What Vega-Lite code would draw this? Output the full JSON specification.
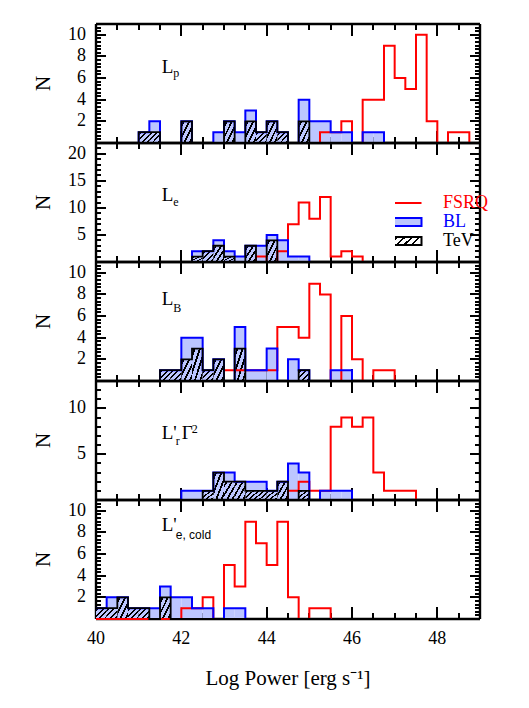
{
"$schema": "https://vega.github.io/schema/vega-lite/v6.json",
"padding": {"left": 33, "top": 15, "right": 5, "bottom": 5},
"background": "white",
"config": {
 "view": {"stroke": null},
 "axis": {"domainColor": "#000", "domainWidth": 2.4, "ticks": true, "grid": false, "tickColor": "#000", "tickWidth": 2, "tickOpacity": 1, "labelFont": "Liberation Serif", "labelFontSize": 18, "labelColor": "#000", "titleFont": "Liberation Serif", "titleFontSize": 21, "titleFontWeight": "normal", "titleColor": "#000", "zindex": 1, "translate": 0, "labelFlush": false, "labelOverlap": false, "labelAngle": 0, "format": "d"}
},
"datasets": {"h": [
{"p":"p","x0":40.75,"x1":41,"fsrq":0,"bl":0,"tev":0},
{"p":"p","x0":41,"x1":41.25,"fsrq":0,"bl":1,"tev":1},
{"p":"p","x0":41.25,"x1":41.5,"fsrq":0,"bl":2,"tev":1},
{"p":"p","x0":41.5,"x1":41.75,"fsrq":0,"bl":0,"tev":0},
{"p":"p","x0":41.75,"x1":42,"fsrq":0,"bl":0,"tev":0},
{"p":"p","x0":42,"x1":42.25,"fsrq":0,"bl":2,"tev":2},
{"p":"p","x0":42.25,"x1":42.5,"fsrq":0,"bl":0,"tev":0},
{"p":"p","x0":42.5,"x1":42.75,"fsrq":0,"bl":0,"tev":0},
{"p":"p","x0":42.75,"x1":43,"fsrq":0,"bl":1,"tev":0},
{"p":"p","x0":43,"x1":43.25,"fsrq":0,"bl":2,"tev":2},
{"p":"p","x0":43.25,"x1":43.5,"fsrq":0,"bl":1,"tev":0},
{"p":"p","x0":43.5,"x1":43.75,"fsrq":0,"bl":3,"tev":2},
{"p":"p","x0":43.75,"x1":44,"fsrq":0,"bl":1,"tev":1},
{"p":"p","x0":44,"x1":44.25,"fsrq":0,"bl":2,"tev":2},
{"p":"p","x0":44.25,"x1":44.5,"fsrq":0,"bl":1,"tev":1},
{"p":"p","x0":44.5,"x1":44.75,"fsrq":0,"bl":0,"tev":0},
{"p":"p","x0":44.75,"x1":45,"fsrq":0,"bl":4,"tev":2},
{"p":"p","x0":45,"x1":45.25,"fsrq":0,"bl":2,"tev":0},
{"p":"p","x0":45.25,"x1":45.5,"fsrq":1,"bl":2,"tev":0},
{"p":"p","x0":45.5,"x1":45.75,"fsrq":1,"bl":1,"tev":0},
{"p":"p","x0":45.75,"x1":46,"fsrq":2,"bl":1,"tev":0},
{"p":"p","x0":46,"x1":46.25,"fsrq":0,"bl":0,"tev":0},
{"p":"p","x0":46.25,"x1":46.5,"fsrq":4,"bl":1,"tev":0},
{"p":"p","x0":46.5,"x1":46.75,"fsrq":4,"bl":1,"tev":0},
{"p":"p","x0":46.75,"x1":47,"fsrq":9,"bl":0,"tev":0},
{"p":"p","x0":47,"x1":47.25,"fsrq":6,"bl":0,"tev":0},
{"p":"p","x0":47.25,"x1":47.5,"fsrq":5,"bl":0,"tev":0},
{"p":"p","x0":47.5,"x1":47.75,"fsrq":10,"bl":0,"tev":0},
{"p":"p","x0":47.75,"x1":48,"fsrq":2,"bl":0,"tev":0},
{"p":"p","x0":48,"x1":48.25,"fsrq":0,"bl":0,"tev":0},
{"p":"p","x0":48.25,"x1":48.5,"fsrq":1,"bl":0,"tev":0},
{"p":"p","x0":48.5,"x1":48.75,"fsrq":1,"bl":0,"tev":0},
{"p":"p","x0":48.75,"x1":49,"fsrq":0,"bl":0,"tev":0},
{"p":"e","x0":42,"x1":42.25,"fsrq":0,"bl":0,"tev":0},
{"p":"e","x0":42.25,"x1":42.5,"fsrq":0,"bl":2,"tev":1},
{"p":"e","x0":42.5,"x1":42.75,"fsrq":0,"bl":2,"tev":2},
{"p":"e","x0":42.75,"x1":43,"fsrq":0,"bl":4,"tev":3},
{"p":"e","x0":43,"x1":43.25,"fsrq":0,"bl":2,"tev":1},
{"p":"e","x0":43.25,"x1":43.5,"fsrq":0,"bl":1,"tev":0},
{"p":"e","x0":43.5,"x1":43.75,"fsrq":0,"bl":3,"tev":3},
{"p":"e","x0":43.75,"x1":44,"fsrq":1,"bl":3,"tev":0},
{"p":"e","x0":44,"x1":44.25,"fsrq":0,"bl":5,"tev":4},
{"p":"e","x0":44.25,"x1":44.5,"fsrq":2,"bl":4,"tev":0},
{"p":"e","x0":44.5,"x1":44.75,"fsrq":7,"bl":1,"tev":0},
{"p":"e","x0":44.75,"x1":45,"fsrq":11,"bl":1,"tev":0},
{"p":"e","x0":45,"x1":45.25,"fsrq":8,"bl":0,"tev":0},
{"p":"e","x0":45.25,"x1":45.5,"fsrq":12,"bl":0,"tev":0},
{"p":"e","x0":45.5,"x1":45.75,"fsrq":1,"bl":0,"tev":0},
{"p":"e","x0":45.75,"x1":46,"fsrq":2,"bl":0,"tev":0},
{"p":"e","x0":46,"x1":46.25,"fsrq":1,"bl":0,"tev":0},
{"p":"e","x0":46.25,"x1":46.5,"fsrq":0,"bl":0,"tev":0},
{"p":"B","x0":41.25,"x1":41.5,"fsrq":0,"bl":0,"tev":0},
{"p":"B","x0":41.5,"x1":41.75,"fsrq":0,"bl":1,"tev":1},
{"p":"B","x0":41.75,"x1":42,"fsrq":0,"bl":1,"tev":1},
{"p":"B","x0":42,"x1":42.25,"fsrq":0,"bl":4,"tev":2},
{"p":"B","x0":42.25,"x1":42.5,"fsrq":0,"bl":4,"tev":3},
{"p":"B","x0":42.5,"x1":42.75,"fsrq":0,"bl":1,"tev":1},
{"p":"B","x0":42.75,"x1":43,"fsrq":0,"bl":2,"tev":2},
{"p":"B","x0":43,"x1":43.25,"fsrq":1,"bl":0,"tev":0},
{"p":"B","x0":43.25,"x1":43.5,"fsrq":1,"bl":5,"tev":3},
{"p":"B","x0":43.5,"x1":43.75,"fsrq":1,"bl":1,"tev":0},
{"p":"B","x0":43.75,"x1":44,"fsrq":1,"bl":1,"tev":0},
{"p":"B","x0":44,"x1":44.25,"fsrq":1,"bl":3,"tev":0},
{"p":"B","x0":44.25,"x1":44.5,"fsrq":5,"bl":0,"tev":0},
{"p":"B","x0":44.5,"x1":44.75,"fsrq":5,"bl":2,"tev":0},
{"p":"B","x0":44.75,"x1":45,"fsrq":4,"bl":1,"tev":1},
{"p":"B","x0":45,"x1":45.25,"fsrq":9,"bl":0,"tev":0},
{"p":"B","x0":45.25,"x1":45.5,"fsrq":8,"bl":0,"tev":0},
{"p":"B","x0":45.5,"x1":45.75,"fsrq":0,"bl":1,"tev":0},
{"p":"B","x0":45.75,"x1":46,"fsrq":6,"bl":1,"tev":0},
{"p":"B","x0":46,"x1":46.25,"fsrq":2,"bl":0,"tev":0},
{"p":"B","x0":46.25,"x1":46.5,"fsrq":0,"bl":0,"tev":0},
{"p":"B","x0":46.5,"x1":46.75,"fsrq":1,"bl":0,"tev":0},
{"p":"B","x0":46.75,"x1":47,"fsrq":1,"bl":0,"tev":0},
{"p":"B","x0":47,"x1":47.25,"fsrq":0,"bl":0,"tev":0},
{"p":"r","x0":41.75,"x1":42,"fsrq":0,"bl":0,"tev":0},
{"p":"r","x0":42,"x1":42.25,"fsrq":0,"bl":1,"tev":0},
{"p":"r","x0":42.25,"x1":42.5,"fsrq":0,"bl":1,"tev":0},
{"p":"r","x0":42.5,"x1":42.75,"fsrq":0,"bl":1,"tev":1},
{"p":"r","x0":42.75,"x1":43,"fsrq":0,"bl":3,"tev":3},
{"p":"r","x0":43,"x1":43.25,"fsrq":0,"bl":3,"tev":2},
{"p":"r","x0":43.25,"x1":43.5,"fsrq":0,"bl":2,"tev":2},
{"p":"r","x0":43.5,"x1":43.75,"fsrq":0,"bl":2,"tev":1},
{"p":"r","x0":43.75,"x1":44,"fsrq":0,"bl":2,"tev":1},
{"p":"r","x0":44,"x1":44.25,"fsrq":0,"bl":1,"tev":1},
{"p":"r","x0":44.25,"x1":44.5,"fsrq":0,"bl":2,"tev":2},
{"p":"r","x0":44.5,"x1":44.75,"fsrq":1,"bl":4,"tev":0},
{"p":"r","x0":44.75,"x1":45,"fsrq":2,"bl":3,"tev":1},
{"p":"r","x0":45,"x1":45.25,"fsrq":1,"bl":0,"tev":0},
{"p":"r","x0":45.25,"x1":45.5,"fsrq":1,"bl":1,"tev":0},
{"p":"r","x0":45.5,"x1":45.75,"fsrq":8,"bl":1,"tev":0},
{"p":"r","x0":45.75,"x1":46,"fsrq":9,"bl":1,"tev":0},
{"p":"r","x0":46,"x1":46.25,"fsrq":8,"bl":0,"tev":0},
{"p":"r","x0":46.25,"x1":46.5,"fsrq":9,"bl":0,"tev":0},
{"p":"r","x0":46.5,"x1":46.75,"fsrq":3,"bl":0,"tev":0},
{"p":"r","x0":46.75,"x1":47,"fsrq":1,"bl":0,"tev":0},
{"p":"r","x0":47,"x1":47.25,"fsrq":1,"bl":0,"tev":0},
{"p":"r","x0":47.25,"x1":47.5,"fsrq":1,"bl":0,"tev":0},
{"p":"r","x0":47.5,"x1":47.75,"fsrq":0,"bl":0,"tev":0},
{"p":"c","x0":40,"x1":40.25,"fsrq":0,"bl":1,"tev":1},
{"p":"c","x0":40.25,"x1":40.5,"fsrq":0,"bl":2,"tev":1},
{"p":"c","x0":40.5,"x1":40.75,"fsrq":0,"bl":2,"tev":2},
{"p":"c","x0":40.75,"x1":41,"fsrq":0,"bl":1,"tev":1},
{"p":"c","x0":41,"x1":41.25,"fsrq":0,"bl":1,"tev":1},
{"p":"c","x0":41.25,"x1":41.5,"fsrq":0,"bl":1,"tev":0},
{"p":"c","x0":41.5,"x1":41.75,"fsrq":0,"bl":3,"tev":2},
{"p":"c","x0":41.75,"x1":42,"fsrq":0,"bl":2,"tev":0},
{"p":"c","x0":42,"x1":42.25,"fsrq":1,"bl":2,"tev":0},
{"p":"c","x0":42.25,"x1":42.5,"fsrq":1,"bl":1,"tev":0},
{"p":"c","x0":42.5,"x1":42.75,"fsrq":2,"bl":1,"tev":0},
{"p":"c","x0":42.75,"x1":43,"fsrq":0,"bl":0,"tev":0},
{"p":"c","x0":43,"x1":43.25,"fsrq":5,"bl":1,"tev":0},
{"p":"c","x0":43.25,"x1":43.5,"fsrq":3,"bl":1,"tev":0},
{"p":"c","x0":43.5,"x1":43.75,"fsrq":9,"bl":0,"tev":0},
{"p":"c","x0":43.75,"x1":44,"fsrq":7,"bl":0,"tev":0},
{"p":"c","x0":44,"x1":44.25,"fsrq":5,"bl":0,"tev":0},
{"p":"c","x0":44.25,"x1":44.5,"fsrq":9,"bl":0,"tev":0},
{"p":"c","x0":44.5,"x1":44.75,"fsrq":2,"bl":0,"tev":0},
{"p":"c","x0":44.75,"x1":45,"fsrq":0,"bl":0,"tev":0},
{"p":"c","x0":45,"x1":45.25,"fsrq":1,"bl":0,"tev":0},
{"p":"c","x0":45.25,"x1":45.5,"fsrq":1,"bl":0,"tev":0},
{"p":"c","x0":45.5,"x1":45.75,"fsrq":0,"bl":0,"tev":0}
]},
"vconcat": [
{
 "width": 384, "height": 119,
 "data": {"name": "h"},
 "transform": [{"filter": "datum.p === 'p'"}],
 "resolve": {"axis": {"x": "independent", "y": "independent"}},
 "layer": [
  {"transform": [{"filter": "datum.bl > 0"}], "mark": {"type": "rect", "fill": "#bcc6ff"},
   "encoding": {
    "x": {"field": "x0", "type": "quantitative", "scale": {"domain": [40, 49], "nice": false, "zero": false}, "axis": {"orient": "bottom", "values": [40,40.5,41,41.5,42,42.5,43,43.5,44,44.5,45,45.5,46,46.5,47,47.5,48,48.5,49], "labels": false, "title": null, "tickSize": {"condition": {"test": "datum.value % 2 === 0", "value": -12}, "value": -6}}},
    "x2": {"field": "x1"},
    "y": {"field": "bl", "type": "quantitative", "scale": {"domain": [0, 11], "nice": false}, "axis": {"orient": "left", "values": [0,0.3333,0.6667,1,1.3333,1.6667,2,2.3333,2.6667,3,3.3333,3.6667,4,4.3333,4.6667,5,5.3333,5.6667,6,6.3333,6.6667,7,7.3333,7.6667,8,8.3333,8.6667,9,9.3333,9.6667,10,10.3333,10.6667,11], "labelExpr": "datum.value % 2 === 0 && datum.value > 0 ? datum.label : ''", "title": "N", "tickSize": {"condition": {"test": "datum.value % 2 === 0", "value": -10}, "value": -5}, "labelPadding": 20, "titlePadding": 14}},
    "y2": {"datum": 0}
   }},
  {"transform": [{"filter": "datum.tev > 0"}], "mark": {"type": "rect", "fill": {"gradient": "linear", "x1": 0, "y1": 0, "x2": 1, "y2": 1, "stops": [{"offset": 0, "color": "rgba(0,0,0,0)"}, {"offset": 0.08, "color": "rgba(0,0,0,0)"}, {"offset": 0.08, "color": "#000"}, {"offset": 0.17, "color": "#000"}, {"offset": 0.17, "color": "rgba(0,0,0,0)"}, {"offset": 0.33, "color": "rgba(0,0,0,0)"}, {"offset": 0.33, "color": "#000"}, {"offset": 0.42, "color": "#000"}, {"offset": 0.42, "color": "rgba(0,0,0,0)"}, {"offset": 0.58, "color": "rgba(0,0,0,0)"}, {"offset": 0.58, "color": "#000"}, {"offset": 0.67, "color": "#000"}, {"offset": 0.67, "color": "rgba(0,0,0,0)"}, {"offset": 0.83, "color": "rgba(0,0,0,0)"}, {"offset": 0.83, "color": "#000"}, {"offset": 0.92, "color": "#000"}, {"offset": 0.92, "color": "rgba(0,0,0,0)"}, {"offset": 1, "color": "rgba(0,0,0,0)"}]}},
   "encoding": {"x": {"field": "x0", "type": "quantitative", "axis": null}, "x2": {"field": "x1"}, "y": {"field": "tev", "type": "quantitative", "axis": null}, "y2": {"datum": 0}}},
  {"mark": {"type": "line", "interpolate": "step-after", "stroke": "#ff0000", "strokeWidth": 2}, "encoding": {"x": {"field": "x0", "type": "quantitative", "axis": null}, "y": {"field": "fsrq", "type": "quantitative", "axis": null}}},
  {"mark": {"type": "line", "interpolate": "step-after", "stroke": "#0000ff", "strokeWidth": 2}, "encoding": {"x": {"field": "x0", "type": "quantitative", "axis": null}, "y": {"field": "bl", "type": "quantitative", "axis": null}}},
  {"mark": {"type": "line", "interpolate": "step-after", "stroke": "#000000", "strokeWidth": 1.8}, "encoding": {"x": {"field": "x0", "type": "quantitative", "axis": null}, "y": {"field": "tev", "type": "quantitative", "axis": null}}},
  {"mark": {"type": "rect", "opacity": 0},
   "encoding": {
    "x": {"field": "x0", "type": "quantitative", "axis": {"orient": "top", "values": [40,40.5,41,41.5,42,42.5,43,43.5,44,44.5,45,45.5,46,46.5,47,47.5,48,48.5,49], "labels": false, "title": null, "tickSize": {"condition": {"test": "datum.value % 2 === 0", "value": -12}, "value": -6}}},
    "x2": {"field": "x1"},
    "y": {"field": "bl", "type": "quantitative", "axis": {"orient": "right", "values": [0,0.3333,0.6667,1,1.3333,1.6667,2,2.3333,2.6667,3,3.3333,3.6667,4,4.3333,4.6667,5,5.3333,5.6667,6,6.3333,6.6667,7,7.3333,7.6667,8,8.3333,8.6667,9,9.3333,9.6667,10,10.3333,10.6667,11], "labels": false, "title": null, "tickSize": {"condition": {"test": "datum.value % 2 === 0", "value": -10}, "value": -5}}},
    "y2": {"datum": 0}
   }},
  {"data": {"values": [{}]}, "mark": {"type": "text", "text": "L", "font": "Liberation Serif", "fontSize": 19, "align": "left", "baseline": "alphabetic", "fill": "#000"}, "encoding": {"x": {"datum": 41.54, "type": "quantitative", "axis": null}, "y": {"datum": 6.47, "type": "quantitative", "axis": null}}},
  {"data": {"values": [{}]}, "mark": {"type": "text", "text": "p", "font": "Liberation Serif", "fontSize": 12, "align": "left", "baseline": "alphabetic", "fill": "#000", "dx": 11.5, "dy": 4}, "encoding": {"x": {"datum": 41.54, "type": "quantitative", "axis": null}, "y": {"datum": 6.47, "type": "quantitative", "axis": null}}}
 ]
},
{
 "width": 384, "height": 119,
 "data": {"name": "h"},
 "transform": [{"filter": "datum.p === 'e'"}],
 "resolve": {"axis": {"x": "independent", "y": "independent"}},
 "layer": [
  {"transform": [{"filter": "datum.bl > 0"}], "mark": {"type": "rect", "fill": "#bcc6ff"},
   "encoding": {
    "x": {"field": "x0", "type": "quantitative", "scale": {"domain": [40, 49], "nice": false, "zero": false}, "axis": {"orient": "bottom", "values": [40,40.5,41,41.5,42,42.5,43,43.5,44,44.5,45,45.5,46,46.5,47,47.5,48,48.5,49], "labels": false, "title": null, "tickSize": {"condition": {"test": "datum.value % 2 === 0", "value": -12}, "value": -6}}},
    "x2": {"field": "x1"},
    "y": {"field": "bl", "type": "quantitative", "scale": {"domain": [0, 22], "nice": false}, "axis": {"orient": "left", "values": [0,1,2,3,4,5,6,7,8,9,10,11,12,13,14,15,16,17,18,19,20,21,22], "labelExpr": "datum.value % 5 === 0 && datum.value > 0 ? datum.label : ''", "title": "N", "tickSize": {"condition": {"test": "datum.value % 5 === 0", "value": -10}, "value": -5}, "labelPadding": 20, "titlePadding": 14}},
    "y2": {"datum": 0}
   }},
  {"transform": [{"filter": "datum.tev > 0"}], "mark": {"type": "rect", "fill": {"gradient": "linear", "x1": 0, "y1": 0, "x2": 1, "y2": 1, "stops": [{"offset": 0, "color": "rgba(0,0,0,0)"}, {"offset": 0.08, "color": "rgba(0,0,0,0)"}, {"offset": 0.08, "color": "#000"}, {"offset": 0.17, "color": "#000"}, {"offset": 0.17, "color": "rgba(0,0,0,0)"}, {"offset": 0.33, "color": "rgba(0,0,0,0)"}, {"offset": 0.33, "color": "#000"}, {"offset": 0.42, "color": "#000"}, {"offset": 0.42, "color": "rgba(0,0,0,0)"}, {"offset": 0.58, "color": "rgba(0,0,0,0)"}, {"offset": 0.58, "color": "#000"}, {"offset": 0.67, "color": "#000"}, {"offset": 0.67, "color": "rgba(0,0,0,0)"}, {"offset": 0.83, "color": "rgba(0,0,0,0)"}, {"offset": 0.83, "color": "#000"}, {"offset": 0.92, "color": "#000"}, {"offset": 0.92, "color": "rgba(0,0,0,0)"}, {"offset": 1, "color": "rgba(0,0,0,0)"}]}},
   "encoding": {"x": {"field": "x0", "type": "quantitative", "axis": null}, "x2": {"field": "x1"}, "y": {"field": "tev", "type": "quantitative", "axis": null}, "y2": {"datum": 0}}},
  {"mark": {"type": "line", "interpolate": "step-after", "strokeWidth": 2}, "encoding": {"x": {"field": "x0", "type": "quantitative", "axis": null}, "y": {"field": "fsrq", "type": "quantitative", "axis": null},
    "color": {"datum": "FSRQ", "type": "nominal", "scale": {"domain": ["FSRQ", "BL", "TeV"], "range": ["#ff0000", "#0000ff", "#000000"]},
     "legend": {"orient": "none", "legendX": 299, "legendY": 51, "title": null, "symbolSize": 4, "symbolStrokeWidth": 2, "labelFont": "Liberation Serif", "labelFontSize": 18, "labelOffset": 30, "rowPadding": 1, "clipHeight": 18, "padding": 0,
      "symbolType": {"expr": "datum.value === 'FSRQ' ? 'M-17.5,0H17.5' : 'M-17.5,-4H17.5V4H-17.5Z'"},
      "symbolFillColor": {"expr": "datum.value === 'BL' ? '#bcc6ff' : datum.value === 'TeV' ? {gradient: 'linear', x1: 0, y1: 0, x2: 1, y2: 0.25, stops: [{offset: 0, color: 'rgba(0,0,0,0)'}, {offset: 0.07, color: 'rgba(0,0,0,0)'}, {offset: 0.07, color: '#000'}, {offset: 0.13, color: '#000'}, {offset: 0.13, color: 'rgba(0,0,0,0)'}, {offset: 0.27, color: 'rgba(0,0,0,0)'}, {offset: 0.27, color: '#000'}, {offset: 0.33, color: '#000'}, {offset: 0.33, color: 'rgba(0,0,0,0)'}, {offset: 0.47, color: 'rgba(0,0,0,0)'}, {offset: 0.47, color: '#000'}, {offset: 0.53, color: '#000'}, {offset: 0.53, color: 'rgba(0,0,0,0)'}, {offset: 0.67, color: 'rgba(0,0,0,0)'}, {offset: 0.67, color: '#000'}, {offset: 0.73, color: '#000'}, {offset: 0.73, color: 'rgba(0,0,0,0)'}, {offset: 0.87, color: 'rgba(0,0,0,0)'}, {offset: 0.87, color: '#000'}, {offset: 0.93, color: '#000'}, {offset: 0.93, color: 'rgba(0,0,0,0)'}, {offset: 1, color: 'rgba(0,0,0,0)'}]} : 'transparent'"},
      "labelColor": {"expr": "datum.value === 'FSRQ' ? '#ff0000' : datum.value === 'BL' ? '#0000ff' : '#000000'"}
      }}}},
  {"mark": {"type": "line", "interpolate": "step-after", "stroke": "#0000ff", "strokeWidth": 2}, "encoding": {"x": {"field": "x0", "type": "quantitative", "axis": null}, "y": {"field": "bl", "type": "quantitative", "axis": null}}},
  {"mark": {"type": "line", "interpolate": "step-after", "stroke": "#000000", "strokeWidth": 1.8}, "encoding": {"x": {"field": "x0", "type": "quantitative", "axis": null}, "y": {"field": "tev", "type": "quantitative", "axis": null}}},
  {"mark": {"type": "rect", "opacity": 0},
   "encoding": {
    "x": {"field": "x0", "type": "quantitative", "axis": {"orient": "top", "values": [40,40.5,41,41.5,42,42.5,43,43.5,44,44.5,45,45.5,46,46.5,47,47.5,48,48.5,49], "labels": false, "title": null, "tickSize": {"condition": {"test": "datum.value % 2 === 0", "value": -12}, "value": -6}}},
    "x2": {"field": "x1"},
    "y": {"field": "bl", "type": "quantitative", "axis": {"orient": "right", "values": [0,1,2,3,4,5,6,7,8,9,10,11,12,13,14,15,16,17,18,19,20,21,22], "labels": false, "title": null, "tickSize": {"condition": {"test": "datum.value % 5 === 0", "value": -10}, "value": -5}}},
    "y2": {"datum": 0}
   }},
  {"data": {"values": [{}]}, "mark": {"type": "text", "text": "L", "font": "Liberation Serif", "fontSize": 19, "align": "left", "baseline": "alphabetic", "fill": "#000"}, "encoding": {"x": {"datum": 41.54, "type": "quantitative", "axis": null}, "y": {"datum": 11.28, "type": "quantitative", "axis": null}}},
  {"data": {"values": [{}]}, "mark": {"type": "text", "text": "e", "font": "Liberation Serif", "fontSize": 12, "align": "left", "baseline": "alphabetic", "fill": "#000", "dx": 11.5, "dy": 5}, "encoding": {"x": {"datum": 41.54, "type": "quantitative", "axis": null}, "y": {"datum": 11.28, "type": "quantitative", "axis": null}}}
 ]
},
{
 "width": 384, "height": 119,
 "data": {"name": "h"},
 "transform": [{"filter": "datum.p === 'B'"}],
 "resolve": {"axis": {"x": "independent", "y": "independent"}},
 "layer": [
  {"transform": [{"filter": "datum.bl > 0"}], "mark": {"type": "rect", "fill": "#bcc6ff"},
   "encoding": {
    "x": {"field": "x0", "type": "quantitative", "scale": {"domain": [40, 49], "nice": false, "zero": false}, "axis": {"orient": "bottom", "values": [40,40.5,41,41.5,42,42.5,43,43.5,44,44.5,45,45.5,46,46.5,47,47.5,48,48.5,49], "labels": false, "title": null, "tickSize": {"condition": {"test": "datum.value % 2 === 0", "value": -12}, "value": -6}}},
    "x2": {"field": "x1"},
    "y": {"field": "bl", "type": "quantitative", "scale": {"domain": [0, 11], "nice": false}, "axis": {"orient": "left", "values": [0,0.3333,0.6667,1,1.3333,1.6667,2,2.3333,2.6667,3,3.3333,3.6667,4,4.3333,4.6667,5,5.3333,5.6667,6,6.3333,6.6667,7,7.3333,7.6667,8,8.3333,8.6667,9,9.3333,9.6667,10,10.3333,10.6667,11], "labelExpr": "datum.value % 2 === 0 && datum.value > 0 ? datum.label : ''", "title": "N", "tickSize": {"condition": {"test": "datum.value % 2 === 0", "value": -10}, "value": -5}, "labelPadding": 20, "titlePadding": 14}},
    "y2": {"datum": 0}
   }},
  {"transform": [{"filter": "datum.tev > 0"}], "mark": {"type": "rect", "fill": {"gradient": "linear", "x1": 0, "y1": 0, "x2": 1, "y2": 1, "stops": [{"offset": 0, "color": "rgba(0,0,0,0)"}, {"offset": 0.08, "color": "rgba(0,0,0,0)"}, {"offset": 0.08, "color": "#000"}, {"offset": 0.17, "color": "#000"}, {"offset": 0.17, "color": "rgba(0,0,0,0)"}, {"offset": 0.33, "color": "rgba(0,0,0,0)"}, {"offset": 0.33, "color": "#000"}, {"offset": 0.42, "color": "#000"}, {"offset": 0.42, "color": "rgba(0,0,0,0)"}, {"offset": 0.58, "color": "rgba(0,0,0,0)"}, {"offset": 0.58, "color": "#000"}, {"offset": 0.67, "color": "#000"}, {"offset": 0.67, "color": "rgba(0,0,0,0)"}, {"offset": 0.83, "color": "rgba(0,0,0,0)"}, {"offset": 0.83, "color": "#000"}, {"offset": 0.92, "color": "#000"}, {"offset": 0.92, "color": "rgba(0,0,0,0)"}, {"offset": 1, "color": "rgba(0,0,0,0)"}]}},
   "encoding": {"x": {"field": "x0", "type": "quantitative", "axis": null}, "x2": {"field": "x1"}, "y": {"field": "tev", "type": "quantitative", "axis": null}, "y2": {"datum": 0}}},
  {"mark": {"type": "line", "interpolate": "step-after", "stroke": "#ff0000", "strokeWidth": 2}, "encoding": {"x": {"field": "x0", "type": "quantitative", "axis": null}, "y": {"field": "fsrq", "type": "quantitative", "axis": null}}},
  {"mark": {"type": "line", "interpolate": "step-after", "stroke": "#0000ff", "strokeWidth": 2}, "encoding": {"x": {"field": "x0", "type": "quantitative", "axis": null}, "y": {"field": "bl", "type": "quantitative", "axis": null}}},
  {"mark": {"type": "line", "interpolate": "step-after", "stroke": "#000000", "strokeWidth": 1.8}, "encoding": {"x": {"field": "x0", "type": "quantitative", "axis": null}, "y": {"field": "tev", "type": "quantitative", "axis": null}}},
  {"mark": {"type": "rect", "opacity": 0},
   "encoding": {
    "x": {"field": "x0", "type": "quantitative", "axis": {"orient": "top", "values": [40,40.5,41,41.5,42,42.5,43,43.5,44,44.5,45,45.5,46,46.5,47,47.5,48,48.5,49], "labels": false, "title": null, "tickSize": {"condition": {"test": "datum.value % 2 === 0", "value": -12}, "value": -6}}},
    "x2": {"field": "x1"},
    "y": {"field": "bl", "type": "quantitative", "axis": {"orient": "right", "values": [0,0.3333,0.6667,1,1.3333,1.6667,2,2.3333,2.6667,3,3.3333,3.6667,4,4.3333,4.6667,5,5.3333,5.6667,6,6.3333,6.6667,7,7.3333,7.6667,8,8.3333,8.6667,9,9.3333,9.6667,10,10.3333,10.6667,11], "labels": false, "title": null, "tickSize": {"condition": {"test": "datum.value % 2 === 0", "value": -10}, "value": -5}}},
    "y2": {"datum": 0}
   }},
  {"data": {"values": [{}]}, "mark": {"type": "text", "text": "L", "font": "Liberation Serif", "fontSize": 19, "align": "left", "baseline": "alphabetic", "fill": "#000"}, "encoding": {"x": {"datum": 41.54, "type": "quantitative", "axis": null}, "y": {"datum": 7.03, "type": "quantitative", "axis": null}}},
  {"data": {"values": [{}]}, "mark": {"type": "text", "text": "B", "font": "Liberation Serif", "fontSize": 12, "align": "left", "baseline": "alphabetic", "fill": "#000", "dx": 11.5, "dy": 7}, "encoding": {"x": {"datum": 41.54, "type": "quantitative", "axis": null}, "y": {"datum": 7.03, "type": "quantitative", "axis": null}}}
 ]
},
{
 "width": 384, "height": 119,
 "data": {"name": "h"},
 "transform": [{"filter": "datum.p === 'r'"}],
 "resolve": {"axis": {"x": "independent", "y": "independent"}},
 "layer": [
  {"transform": [{"filter": "datum.bl > 0"}], "mark": {"type": "rect", "fill": "#bcc6ff"},
   "encoding": {
    "x": {"field": "x0", "type": "quantitative", "scale": {"domain": [40, 49], "nice": false, "zero": false}, "axis": {"orient": "bottom", "values": [40,40.5,41,41.5,42,42.5,43,43.5,44,44.5,45,45.5,46,46.5,47,47.5,48,48.5,49], "labels": false, "title": null, "tickSize": {"condition": {"test": "datum.value % 2 === 0", "value": -12}, "value": -6}}},
    "x2": {"field": "x1"},
    "y": {"field": "bl", "type": "quantitative", "scale": {"domain": [0, 13], "nice": false}, "axis": {"orient": "left", "values": [0,1,2,3,4,5,6,7,8,9,10,11,12,13], "labelExpr": "datum.value % 5 === 0 && datum.value > 0 ? datum.label : ''", "title": "N", "tickSize": {"condition": {"test": "datum.value % 5 === 0", "value": -10}, "value": -5}, "labelPadding": 20, "titlePadding": 14}},
    "y2": {"datum": 0}
   }},
  {"transform": [{"filter": "datum.tev > 0"}], "mark": {"type": "rect", "fill": {"gradient": "linear", "x1": 0, "y1": 0, "x2": 1, "y2": 1, "stops": [{"offset": 0, "color": "rgba(0,0,0,0)"}, {"offset": 0.08, "color": "rgba(0,0,0,0)"}, {"offset": 0.08, "color": "#000"}, {"offset": 0.17, "color": "#000"}, {"offset": 0.17, "color": "rgba(0,0,0,0)"}, {"offset": 0.33, "color": "rgba(0,0,0,0)"}, {"offset": 0.33, "color": "#000"}, {"offset": 0.42, "color": "#000"}, {"offset": 0.42, "color": "rgba(0,0,0,0)"}, {"offset": 0.58, "color": "rgba(0,0,0,0)"}, {"offset": 0.58, "color": "#000"}, {"offset": 0.67, "color": "#000"}, {"offset": 0.67, "color": "rgba(0,0,0,0)"}, {"offset": 0.83, "color": "rgba(0,0,0,0)"}, {"offset": 0.83, "color": "#000"}, {"offset": 0.92, "color": "#000"}, {"offset": 0.92, "color": "rgba(0,0,0,0)"}, {"offset": 1, "color": "rgba(0,0,0,0)"}]}},
   "encoding": {"x": {"field": "x0", "type": "quantitative", "axis": null}, "x2": {"field": "x1"}, "y": {"field": "tev", "type": "quantitative", "axis": null}, "y2": {"datum": 0}}},
  {"mark": {"type": "line", "interpolate": "step-after", "stroke": "#ff0000", "strokeWidth": 2}, "encoding": {"x": {"field": "x0", "type": "quantitative", "axis": null}, "y": {"field": "fsrq", "type": "quantitative", "axis": null}}},
  {"mark": {"type": "line", "interpolate": "step-after", "stroke": "#0000ff", "strokeWidth": 2}, "encoding": {"x": {"field": "x0", "type": "quantitative", "axis": null}, "y": {"field": "bl", "type": "quantitative", "axis": null}}},
  {"mark": {"type": "line", "interpolate": "step-after", "stroke": "#000000", "strokeWidth": 1.8}, "encoding": {"x": {"field": "x0", "type": "quantitative", "axis": null}, "y": {"field": "tev", "type": "quantitative", "axis": null}}},
  {"mark": {"type": "rect", "opacity": 0},
   "encoding": {
    "x": {"field": "x0", "type": "quantitative", "axis": {"orient": "top", "values": [40,40.5,41,41.5,42,42.5,43,43.5,44,44.5,45,45.5,46,46.5,47,47.5,48,48.5,49], "labels": false, "title": null, "tickSize": {"condition": {"test": "datum.value % 2 === 0", "value": -12}, "value": -6}}},
    "x2": {"field": "x1"},
    "y": {"field": "bl", "type": "quantitative", "axis": {"orient": "right", "values": [0,1,2,3,4,5,6,7,8,9,10,11,12,13], "labels": false, "title": null, "tickSize": {"condition": {"test": "datum.value % 5 === 0", "value": -10}, "value": -5}}},
    "y2": {"datum": 0}
   }},
  {"data": {"values": [{}]}, "mark": {"type": "text", "text": "L'", "font": "Liberation Serif", "fontSize": 19, "align": "left", "baseline": "alphabetic", "fill": "#000"}, "encoding": {"x": {"datum": 41.54, "type": "quantitative", "axis": null}, "y": {"datum": 6.66, "type": "quantitative", "axis": null}}},
  {"data": {"values": [{}]}, "mark": {"type": "text", "text": "r", "font": "Liberation Serif", "fontSize": 12, "align": "left", "baseline": "alphabetic", "fill": "#000", "dx": 14, "dy": 6}, "encoding": {"x": {"datum": 41.54, "type": "quantitative", "axis": null}, "y": {"datum": 6.66, "type": "quantitative", "axis": null}}},
  {"data": {"values": [{}]}, "mark": {"type": "text", "text": "Γ", "font": "Liberation Serif", "fontSize": 19, "align": "left", "baseline": "alphabetic", "fill": "#000", "dx": 20}, "encoding": {"x": {"datum": 41.54, "type": "quantitative", "axis": null}, "y": {"datum": 6.66, "type": "quantitative", "axis": null}}},
  {"data": {"values": [{}]}, "mark": {"type": "text", "text": "2", "font": "Liberation Serif", "fontSize": 12, "align": "left", "baseline": "alphabetic", "fill": "#000", "dx": 30, "dy": -6}, "encoding": {"x": {"datum": 41.54, "type": "quantitative", "axis": null}, "y": {"datum": 6.66, "type": "quantitative", "axis": null}}}
 ]
},
{
 "width": 384, "height": 119,
 "data": {"name": "h"},
 "transform": [{"filter": "datum.p === 'c'"}],
 "resolve": {"axis": {"x": "independent", "y": "independent"}},
 "layer": [
  {"transform": [{"filter": "datum.bl > 0"}], "mark": {"type": "rect", "fill": "#bcc6ff"},
   "encoding": {
    "x": {"field": "x0", "type": "quantitative", "scale": {"domain": [40, 49], "nice": false, "zero": false}, "axis": {"orient": "bottom", "values": [40,40.5,41,41.5,42,42.5,43,43.5,44,44.5,45,45.5,46,46.5,47,47.5,48,48.5,49], "labelExpr": "datum.value % 2 === 0 && datum.value < 49 ? datum.label : ''", "title": "Log Power [erg s⁻¹]", "tickSize": {"condition": {"test": "datum.value % 2 === 0", "value": -12}, "value": -6}, "labelPadding": 23, "titlePadding": 14}},
    "x2": {"field": "x1"},
    "y": {"field": "bl", "type": "quantitative", "scale": {"domain": [0, 11], "nice": false}, "axis": {"orient": "left", "values": [0,0.3333,0.6667,1,1.3333,1.6667,2,2.3333,2.6667,3,3.3333,3.6667,4,4.3333,4.6667,5,5.3333,5.6667,6,6.3333,6.6667,7,7.3333,7.6667,8,8.3333,8.6667,9,9.3333,9.6667,10,10.3333,10.6667,11], "labelExpr": "datum.value % 2 === 0 && datum.value > 0 ? datum.label : ''", "title": "N", "tickSize": {"condition": {"test": "datum.value % 2 === 0", "value": -10}, "value": -5}, "labelPadding": 20, "titlePadding": 14}},
    "y2": {"datum": 0}
   }},
  {"transform": [{"filter": "datum.tev > 0"}], "mark": {"type": "rect", "fill": {"gradient": "linear", "x1": 0, "y1": 0, "x2": 1, "y2": 1, "stops": [{"offset": 0, "color": "rgba(0,0,0,0)"}, {"offset": 0.08, "color": "rgba(0,0,0,0)"}, {"offset": 0.08, "color": "#000"}, {"offset": 0.17, "color": "#000"}, {"offset": 0.17, "color": "rgba(0,0,0,0)"}, {"offset": 0.33, "color": "rgba(0,0,0,0)"}, {"offset": 0.33, "color": "#000"}, {"offset": 0.42, "color": "#000"}, {"offset": 0.42, "color": "rgba(0,0,0,0)"}, {"offset": 0.58, "color": "rgba(0,0,0,0)"}, {"offset": 0.58, "color": "#000"}, {"offset": 0.67, "color": "#000"}, {"offset": 0.67, "color": "rgba(0,0,0,0)"}, {"offset": 0.83, "color": "rgba(0,0,0,0)"}, {"offset": 0.83, "color": "#000"}, {"offset": 0.92, "color": "#000"}, {"offset": 0.92, "color": "rgba(0,0,0,0)"}, {"offset": 1, "color": "rgba(0,0,0,0)"}]}},
   "encoding": {"x": {"field": "x0", "type": "quantitative", "axis": null}, "x2": {"field": "x1"}, "y": {"field": "tev", "type": "quantitative", "axis": null}, "y2": {"datum": 0}}},
  {"mark": {"type": "line", "interpolate": "step-after", "stroke": "#ff0000", "strokeWidth": 2}, "encoding": {"x": {"field": "x0", "type": "quantitative", "axis": null}, "y": {"field": "fsrq", "type": "quantitative", "axis": null}}},
  {"mark": {"type": "line", "interpolate": "step-after", "stroke": "#0000ff", "strokeWidth": 2}, "encoding": {"x": {"field": "x0", "type": "quantitative", "axis": null}, "y": {"field": "bl", "type": "quantitative", "axis": null}}},
  {"mark": {"type": "line", "interpolate": "step-after", "stroke": "#000000", "strokeWidth": 1.8}, "encoding": {"x": {"field": "x0", "type": "quantitative", "axis": null}, "y": {"field": "tev", "type": "quantitative", "axis": null}}},
  {"mark": {"type": "rect", "opacity": 0},
   "encoding": {
    "x": {"field": "x0", "type": "quantitative", "axis": {"orient": "top", "values": [40,40.5,41,41.5,42,42.5,43,43.5,44,44.5,45,45.5,46,46.5,47,47.5,48,48.5,49], "labels": false, "title": null, "tickSize": {"condition": {"test": "datum.value % 2 === 0", "value": -12}, "value": -6}}},
    "x2": {"field": "x1"},
    "y": {"field": "bl", "type": "quantitative", "axis": {"orient": "right", "values": [0,0.3333,0.6667,1,1.3333,1.6667,2,2.3333,2.6667,3,3.3333,3.6667,4,4.3333,4.6667,5,5.3333,5.6667,6,6.3333,6.6667,7,7.3333,7.6667,8,8.3333,8.6667,9,9.3333,9.6667,10,10.3333,10.6667,11], "labels": false, "title": null, "tickSize": {"condition": {"test": "datum.value % 2 === 0", "value": -10}, "value": -5}}},
    "y2": {"datum": 0}
   }},
  {"data": {"values": [{}]}, "mark": {"type": "text", "text": "L'", "font": "Liberation Serif", "fontSize": 19, "align": "left", "baseline": "alphabetic", "fill": "#000"}, "encoding": {"x": {"datum": 41.54, "type": "quantitative", "axis": null}, "y": {"datum": 8.13, "type": "quantitative", "axis": null}}},
  {"data": {"values": [{}]}, "mark": {"type": "text", "text": "e, cold", "font": "Liberation Sans", "fontSize": 12, "align": "left", "baseline": "alphabetic", "fill": "#000", "dx": 14, "dy": 8}, "encoding": {"x": {"datum": 41.54, "type": "quantitative", "axis": null}, "y": {"datum": 8.13, "type": "quantitative", "axis": null}}}
 ]
}
],
"spacing": 0,
"bounds": "flush",
"resolve": {"scale": {"color": "independent"}}
}
